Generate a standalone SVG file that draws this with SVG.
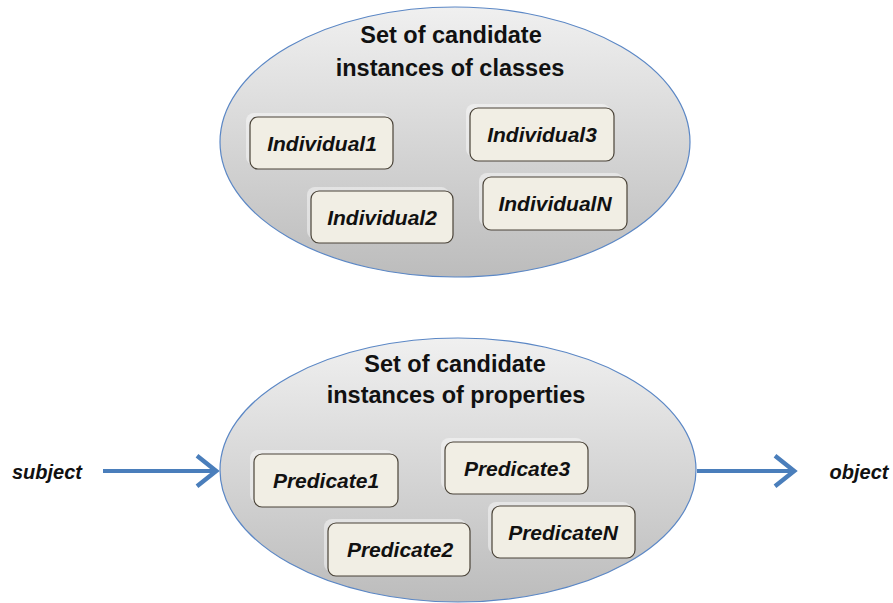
<svg xmlns="http://www.w3.org/2000/svg" width="893" height="603" viewBox="0 0 893 603">
<defs>
<linearGradient id="ellG" x1="0" y1="0" x2="0" y2="1">
<stop offset="0" stop-color="#f0f0f0"/>
<stop offset="1" stop-color="#bcbcbc"/>
</linearGradient>
<marker id="arr" markerWidth="8" markerHeight="10" refX="6.5" refY="5" orient="auto" markerUnits="strokeWidth">
<polyline points="1.5,1.2 6.3,5 1.5,8.8" fill="none" stroke="#4a7ebb" stroke-width="1.1" stroke-linejoin="miter"/>
</marker>
</defs>
<style>
.ell{fill:url(#ellG);stroke:#5b87c5;stroke-width:1.2}
.title{font-family:"Liberation Sans",Arial,sans-serif;font-weight:bold;font-size:23.5px;fill:#111;text-anchor:middle}
.box{fill:#f1eee4;stroke:#4a4338;stroke-width:1.2}
.halo{fill:#ffffff;fill-opacity:0.45}
.lbl{font-family:"Liberation Sans",Arial,sans-serif;font-weight:bold;font-style:italic;font-size:21px;fill:#111;text-anchor:middle}
.side{font-size:20px}
.conn{stroke:#4a7ebb;stroke-width:4;fill:none}
</style>
<g id="classes-set">
<ellipse class="ell" cx="455" cy="142" rx="235" ry="135"/>
<text class="title" x="451" y="43">Set of candidate</text>
<text class="title" x="450" y="76">instances of classes</text>
</g>
<g id="individual1">
<rect class="halo" x="246" y="113" width="143" height="52" rx="8"/>
<rect class="box" x="250" y="117" width="143" height="52" rx="8"/>
<text class="lbl" x="322" y="151">Individual1</text>
</g>
<g id="individual3">
<rect class="halo" x="466" y="104" width="144" height="53" rx="8"/>
<rect class="box" x="470" y="108" width="144" height="53" rx="8"/>
<text class="lbl" x="542" y="142">Individual3</text>
</g>
<g id="individual2">
<rect class="halo" x="307" y="187" width="142" height="52" rx="8"/>
<rect class="box" x="311" y="191" width="142" height="52" rx="8"/>
<text class="lbl" x="382" y="225">Individual2</text>
</g>
<g id="individualN">
<rect class="halo" x="479" y="173" width="144" height="53" rx="8"/>
<rect class="box" x="483" y="177" width="144" height="53" rx="8"/>
<text class="lbl" x="555" y="211">IndividualN</text>
</g>
<g id="properties-set">
<ellipse class="ell" cx="458" cy="470" rx="238" ry="132"/>
<text class="title" x="455" y="372">Set of candidate</text>
<text class="title" x="456" y="403">instances of properties</text>
</g>
<g id="predicate1">
<rect class="halo" x="250" y="450" width="144" height="53" rx="8"/>
<rect class="box" x="254" y="454" width="144" height="53" rx="8"/>
<text class="lbl" x="326" y="488">Predicate1</text>
</g>
<g id="predicate3">
<rect class="halo" x="441" y="438" width="143" height="52" rx="8"/>
<rect class="box" x="445" y="442" width="143" height="52" rx="8"/>
<text class="lbl" x="517" y="476">Predicate3</text>
</g>
<g id="predicate2">
<rect class="halo" x="324" y="519" width="142" height="53" rx="8"/>
<rect class="box" x="328" y="523" width="142" height="53" rx="8"/>
<text class="lbl" x="400" y="557">Predicate2</text>
</g>
<g id="predicateN">
<rect class="halo" x="488" y="502" width="143" height="52" rx="8"/>
<rect class="box" x="492" y="506" width="143" height="52" rx="8"/>
<text class="lbl" x="563" y="540">PredicateN</text>
</g>
<g id="subject">
<text class="lbl side" x="47" y="479">subject</text>
</g>
<g id="object">
<text class="lbl side" x="859" y="479">object</text>
</g>
<g id="connectors">
<line class="conn" x1="103" y1="471" x2="217" y2="471" marker-end="url(#arr)"/>
<line class="conn" x1="697" y1="471" x2="795" y2="471" marker-end="url(#arr)"/>
</g>
</svg>
